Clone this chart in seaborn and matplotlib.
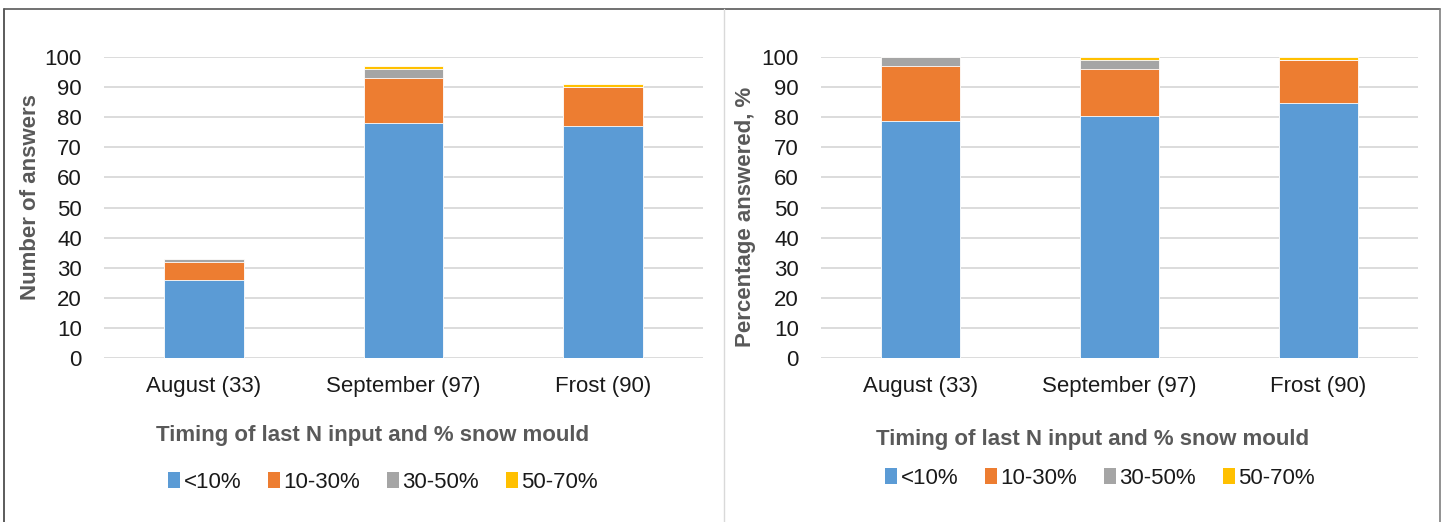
import pandas as pd
import matplotlib
matplotlib.use("Agg")
import matplotlib.pyplot as plt
from matplotlib.patches import Patch
from matplotlib.lines import Line2D
import seaborn as sns

# categories and series
timings = ['August (33)', 'September (97)', 'Frost (90)']
classes = ['<10%', '10-30%', '30-50%', '50-70%']
colors = ['#5B9BD5', '#ED7D31', '#A5A5A5', '#FFC000']

# number of answers per class
count_lt10 = [26, 78, 77]
count_10_30 = [6, 15, 13]
count_30_50 = [1, 3, 0]
count_50_70 = [0, 1, 1]

# percentage answered per class
pct_lt10 = [78.8, 80.4, 84.6]
pct_10_30 = [18.2, 15.5, 14.3]
pct_30_50 = [3.0, 3.1, 0.0]
pct_50_70 = [0.0, 1.0, 1.1]

sns.set_theme(style='white')
plt.rcParams['font.family'] = ['Liberation Sans', 'DejaVu Sans']

W, H = 1448, 522
fig = plt.figure(figsize=(W / 100, H / 100), dpi=100)


def stacked(ax, series, ylabel, ylab_x, ylab_y):
    df = pd.DataFrame({'Timing': timings})
    # cumulative tops, drawn tallest first so each layer covers the one above
    running = [0] * len(timings)
    tops = []
    for s in series:
        running = [a + b for a, b in zip(running, s)]
        tops.append(running)
    for i in reversed(range(len(series))):
        df['top'] = tops[i]
        sns.barplot(data=df, x='Timing', y='top', color=colors[i], width=0.4,
                    saturation=1, edgecolor='white', linewidth=0.6, ax=ax, zorder=3)
    ax.set_ylim(0, 100)
    ax.set_yticks(range(0, 101, 10))
    ax.yaxis.grid(True, color='#d9d9d9', linewidth=1.3, zorder=0)
    ax.set_axisbelow(True)
    for sp in ax.spines.values():
        sp.set_visible(False)
    ax.tick_params(axis='both', length=0, labelsize=16, colors='#1a1a1a')
    ax.tick_params(axis='y', pad=16)
    ax.tick_params(axis='x', pad=13)
    ax.set_xlabel('')
    ax.set_ylabel(ylabel, fontsize=16, fontweight='bold', color='#595959')
    ax.yaxis.set_label_coords(ylab_x, ylab_y)


ax1 = fig.add_axes([104 / W, 164 / H, 599 / W, 301 / H])
stacked(ax1, [count_lt10, count_10_30, count_30_50, count_50_70],
        'Number of answers', -0.105, 0.536)

ax2 = fig.add_axes([821 / W, 164 / H, 597 / W, 301 / H])
stacked(ax2, [pct_lt10, pct_10_30, pct_30_50, pct_50_70],
        'Percentage answered, %', -0.109, 0.47)

# x titles
xtitle = 'Timing of last N input and % snow mould'
fig.text(373 / W, 1 - 436 / H, xtitle, ha='center', va='center', fontsize=16,
         fontweight='bold', color='#595959')
fig.text(1093 / W, 1 - 439 / H, xtitle, ha='center', va='center', fontsize=16,
         fontweight='bold', color='#595959')

# legends
handles = [Patch(facecolor=c, edgecolor='none') for c in colors]
for cx, cy in [(383, 482), (1100, 478)]:
    fig.legend(handles, classes, loc='center', bbox_to_anchor=(cx / W, 1 - cy / H),
               ncol=4, frameon=False, fontsize=16, handlelength=0.55, handleheight=0.75,
               handletextpad=0.15, columnspacing=1.2, labelcolor='#1a1a1a')

# chart borders
fig.add_artist(Line2D([4 / W, 4 / W], [0, 1 - 9 / H], color='#404040', linewidth=1.2))
fig.add_artist(Line2D([4 / W, 1440 / W], [1 - 9 / H, 1 - 9 / H], color='#595959', linewidth=1.2))
fig.add_artist(Line2D([1440 / W, 1440 / W], [0, 1 - 9 / H], color='#7f7f7f', linewidth=1.2))
fig.add_artist(Line2D([724 / W, 724 / W], [0, 1 - 9 / H], color='#d9d9d9', linewidth=1.0))

fig.savefig('out.png', dpi=100)
